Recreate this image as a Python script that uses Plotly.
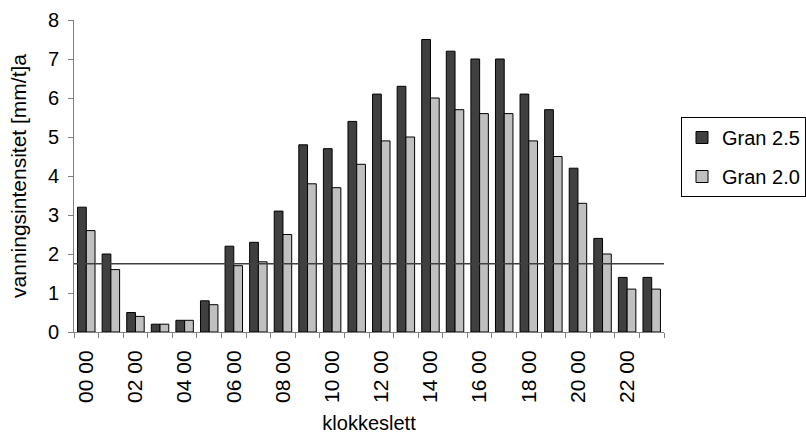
import plotly.graph_objects as go

hours = ["00 00", "01 00", "02 00", "03 00", "04 00", "05 00", "06 00", "07 00",
         "08 00", "09 00", "10 00", "11 00", "12 00", "13 00", "14 00", "15 00",
         "16 00", "17 00", "18 00", "19 00", "20 00", "21 00", "22 00", "23 00"]
gran_25 = [3.2, 2.0, 0.5, 0.2, 0.3, 0.8, 2.2, 2.3, 3.1, 4.8, 4.7, 5.4,
           6.1, 6.3, 7.5, 7.2, 7.0, 7.0, 6.1, 5.7, 4.2, 2.4, 1.4, 1.4]
gran_20 = [2.6, 1.6, 0.4, 0.2, 0.3, 0.7, 1.7, 1.8, 2.5, 3.8, 3.7, 4.3,
           4.9, 5.0, 6.0, 5.7, 5.6, 5.6, 4.9, 4.5, 3.3, 2.0, 1.1, 1.1]
threshold = 1.75
shown_labels = hours[::2]

xpos = list(range(len(hours)))
font = "Liberation Sans, Arial, sans-serif"

fig = go.Figure()
fig.add_trace(go.Bar(x=xpos, y=gran_25, name="Gran 2.5", legendgroup="a",
                     marker=dict(color="#404040", line=dict(color="#000000", width=1))))
fig.add_trace(go.Bar(x=xpos, y=gran_20, name="Gran 2.0", legendgroup="b",
                     marker=dict(color="#c0c0c0", line=dict(color="#000000", width=1))))
fig.add_hline(y=threshold, line=dict(color="#404040", width=1.5))

fig.update_layout(
    width=806, height=434,
    margin=dict(l=74, r=142, t=20, b=102, autoexpand=False),
    paper_bgcolor="white", plot_bgcolor="white",
    barmode="group", bargap=0.29, bargroupgap=0,
    font=dict(family=font, size=20, color="#000000"),
    showlegend=True,
    legend=dict(xref="container", yref="container", x=681 / 806, y=1 - 117 / 434,
                xanchor="left", yanchor="top",
                bordercolor="#000000", borderwidth=1, itemwidth=30,
                font=dict(size=20), traceorder="grouped", tracegroupgap=10),
    xaxis=dict(
        range=[-0.5, len(hours) - 0.5], automargin=False,
        tickmode="array", tickvals=xpos[::2], ticktext=shown_labels,
        tickangle=-90, ticks="", showline=True, linecolor="#808080", linewidth=1,
        showgrid=False, zeroline=False, tickfont=dict(size=21),
        ticklabelstandoff=9,
        minor=dict(tick0=-0.5, dtick=1, ticks="outside", ticklen=5,
                   tickcolor="#808080", showgrid=False),
        title=dict(text="klokkeslett", font=dict(size=20), standoff=15),
    ),
    yaxis=dict(
        range=[0, 8], dtick=1, ticks="outside", ticklen=5, tickcolor="#808080",
        automargin=False,
        showline=True, linecolor="#808080", linewidth=1, showgrid=False,
        zeroline=False, tickfont=dict(size=20), ticklabelstandoff=5,
        title=dict(text="vanningsintensitet [mm/t]a", font=dict(size=21), standoff=15),
    ),
)

fig.write_html("out.html")
